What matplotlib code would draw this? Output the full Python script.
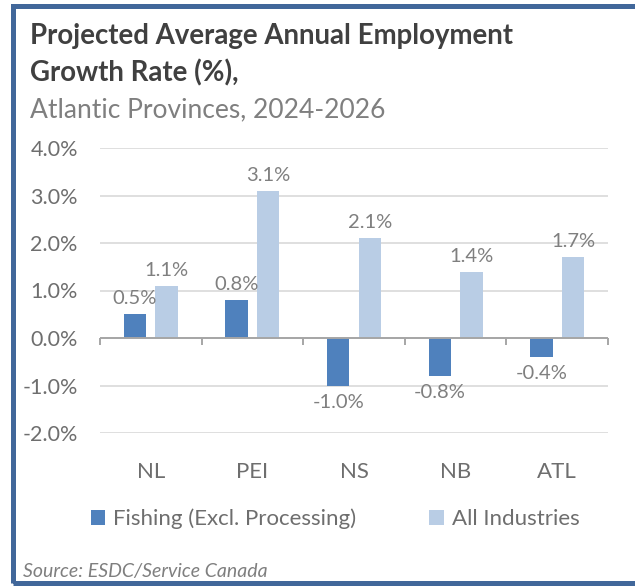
import numpy as np
import matplotlib
matplotlib.use("Agg")
import matplotlib.pyplot as plt
from matplotlib.patches import Rectangle

# projected average annual employment growth, 2024-2026 (%)
regions = ["NL", "PEI", "NS", "NB", "ATL"]
fishing = [0.5, 0.8, -1.0, -0.8, -0.4]
all_industries = [1.1, 3.1, 2.1, 1.4, 1.7]
series_names = ["Fishing (Excl. Processing)", "All Industries"]
y_ticks = [-2.0, -1.0, 0.0, 1.0, 2.0, 3.0, 4.0]

DARK = "#4F81BD"
LIGHT = "#B9CDE5"
GREY_TXT = "#7F7F7F"
TICK_TXT = "#6E6E6E"

plt.rcParams["font.family"] = ["Lato", "DejaVu Sans"]

W, H = 635, 587
fig = plt.figure(figsize=(W / 100, H / 100), dpi=100, facecolor="white")

# outer frame of the card
fig.patches.append(Rectangle((12.5 / W, 1 - 583 / H), 700 / W, (583 - 5.5) / H,
                             transform=fig.transFigure, fill=False,
                             edgecolor="#41679A", linewidth=3.6))

fig.text(30 / W, 1 - 44 / H, "Projected Average Annual Employment",
         fontsize=19.9, fontweight="bold", color="#404040", va="baseline")
fig.text(30 / W, 1 - 81 / H, "Growth Rate (%),",
         fontsize=19.9, fontweight="bold", color="#404040", va="baseline")
fig.text(30 / W, 1 - 117 / H, "Atlantic Provinces, 2024-2026",
         fontsize=19, color=GREY_TXT, va="baseline")

ax = fig.add_axes([100 / W, 1 - 433 / H, 508 / W, 285 / H])
x = np.arange(len(regions))
off = 0.155
bw = 0.22
b1 = ax.bar(x - off, fishing, bw, color=DARK, label=series_names[0], zorder=3)
b2 = ax.bar(x + off, all_industries, bw, color=LIGHT, label=series_names[1], zorder=3)

for bars, vals in ((b1, fishing), (b2, all_industries)):
    for rect, v in zip(bars, vals):
        xc = rect.get_x() + rect.get_width() / 2
        if v >= 0:
            ax.annotate(f"{v:.1f}%", (xc, v), xytext=(0, 5), textcoords="offset points",
                        ha="center", va="bottom", fontsize=14.5, color=GREY_TXT)
        else:
            ax.annotate(f"{v:.1f}%", (xc, v), xytext=(0, -6), textcoords="offset points",
                        ha="center", va="top", fontsize=14.5, color=GREY_TXT)

ax.set_xlim(-0.5, len(regions) - 0.5)
ax.set_ylim(y_ticks[0], y_ticks[-1])
ax.set_yticks(y_ticks)
ax.set_yticklabels([f"{t:.1f}%" for t in y_ticks])
ax.grid(axis="y", color="#D9D9D9", linewidth=1.2, zorder=0)
ax.set_axisbelow(True)
for s in ax.spines.values():
    s.set_visible(False)

# category axis sits on zero, with ticks between the groups
ax.axhline(0, color="#A6A6A6", linewidth=1.4, zorder=4)
ax.vlines(np.arange(len(regions) + 1) - 0.5, -0.15, 0, color="#A6A6A6",
          linewidth=1.4, zorder=4, clip_on=False)

ax.set_xticks(x)
ax.set_xticklabels(regions)
ax.tick_params(axis="x", length=0, pad=21, labelsize=16, labelcolor=TICK_TXT)
ax.tick_params(axis="y", length=0, pad=16, labelsize=15.5, labelcolor=TICK_TXT)

fig.legend(handles=[b1, b2], labels=series_names, loc="center",
           bbox_to_anchor=(335 / W, 1 - 519 / H), ncol=2, frameon=False,
           fontsize=16, labelcolor=TICK_TXT, handlelength=0.64, handleheight=0.64,
           handletextpad=0.36, columnspacing=3.3)

fig.text(23 / W, 1 - 577 / H, "Source: ESDC/Service Canada", fontsize=14,
         style="italic", color=GREY_TXT, va="baseline")

fig.savefig("out.png", dpi=100, facecolor="white")
